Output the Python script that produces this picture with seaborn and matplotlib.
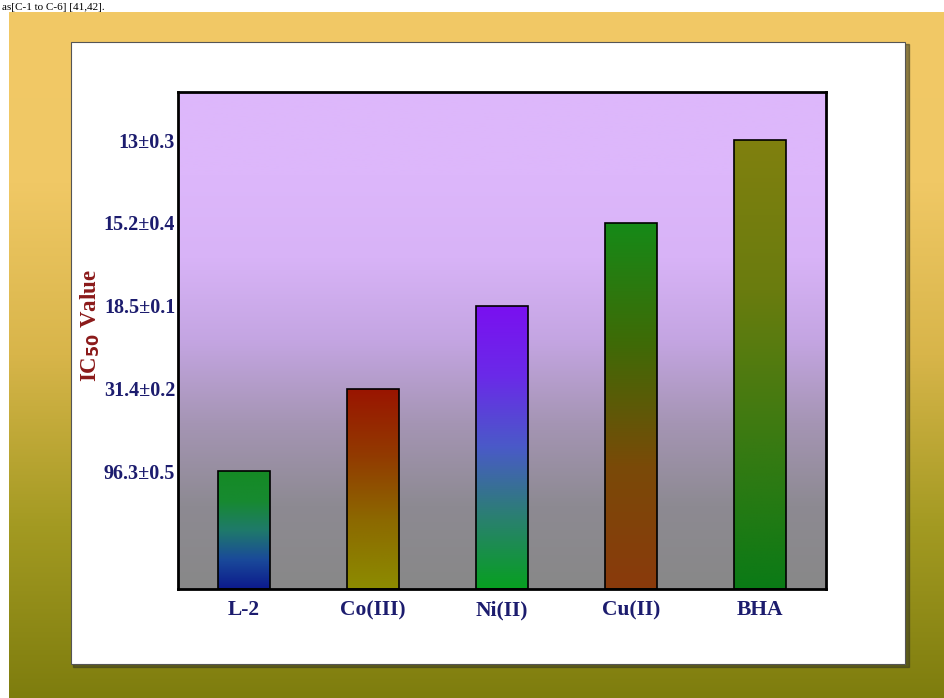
import numpy as np
import matplotlib
matplotlib.use("Agg")
import matplotlib.pyplot as plt
from matplotlib.colors import LinearSegmentedColormap
from matplotlib.patches import Rectangle
import seaborn as sns
import pandas as pd

# Data
categories = ["L-2", "Co(III)", "Ni(II)", "Cu(II)", "BHA"]
ic50_labels = ["96.3±0.5", "31.4±0.2", "18.5±0.1", "15.2±0.4", "13±0.3"]
activity_score = [1.42, 2.42, 3.42, 4.42, 5.42]

# Vertical colour ramps for each bar (bottom -> top)
bar_ramps = [
    ["#0c1a8c", "#1a4a9a", "#1f7a6a", "#178a30", "#158a25"],
    ["#8c8c00", "#8c6a00", "#923a00", "#9a1400"],
    ["#07a020", "#2a8070", "#4a5ac8", "#6a2ae8", "#7a10f0"],
    ["#8a3a0c", "#7a4a08", "#3f6a06", "#158a18"],
    ["#0a7a16", "#3a7a12", "#6a7c0e", "#80800f"],
]

W, H, DPI = 944, 698, 100
fig = plt.figure(figsize=(W / DPI, H / DPI), dpi=DPI)
fig.patch.set_facecolor("white")

def ramp(colors, n=256):
    cmap = LinearSegmentedColormap.from_list("r", colors)
    col = cmap(np.linspace(0, 1, n))[:, :3]
    return col.reshape(n, 1, 3)

# Gold outer frame
bg = fig.add_axes([9 / W, 0, 1 - 9 / W, (H - 12) / H])
bg.imshow(ramp(["#7e7d0e", "#a39a22", "#d8b54a", "#f0c865", "#f2c966"]),
          aspect="auto", origin="lower", extent=(0, 1, 0, 1))
bg.set_axis_off()

# White panel with a soft shadow
deco = fig.add_axes([0, 0, 1, 1], facecolor="none")
deco.set_xlim(0, W)
deco.set_ylim(H, 0)
deco.set_axis_off()
deco.add_patch(Rectangle((73, 44), 836, 623, color="#3a3a20", alpha=0.55, zorder=1))
deco.add_patch(Rectangle((71, 42), 834, 622, facecolor="white", edgecolor="#555555",
                         linewidth=0.8, zorder=2))
deco.text(2, 10, "as[C-1 to C-6] [41,42].", fontsize=8, family="Liberation Serif",
          color="black", va="baseline", ha="left", zorder=3)

# Main chart
ax = fig.add_axes([178 / W, (H - 589) / H, 648 / W, 497 / H])
df = pd.DataFrame({"compound": categories, "score": activity_score})
sns.barplot(data=df, x="compound", y="score", ax=ax, width=0.4,
            color="white", edgecolor="black", linewidth=1.2, zorder=2)

xlim = (-0.51, 4.51)
ylim = (0, 6)
ax.set_xlim(*xlim)
ax.set_ylim(*ylim)

# Plot area gradient: grey at the bottom to lavender at the top
ax.imshow(ramp(["#888888", "#8d8a92", "#a595b4", "#c4a5e2", "#d8b3f7", "#ddb7fb", "#ddb7fb"]),
          aspect="auto", origin="lower", extent=(*xlim, *ylim), zorder=0)

# Gradient fill inside each bar
for patch, colors in zip(ax.patches, bar_ramps):
    x0, y0 = patch.get_x(), patch.get_y()
    w, h = patch.get_width(), patch.get_height()
    im = ax.imshow(ramp(colors), aspect="auto", origin="lower",
                   extent=(x0, x0 + w, y0, y0 + h), zorder=2.5)
    im.set_clip_path(patch)
    patch.set_facecolor("none")
    patch.set_zorder(3)

ax.set_xlim(*xlim)
ax.set_ylim(*ylim)

ax.set_yticks(activity_score)
ax.set_yticklabels(ic50_labels)
ax.tick_params(axis="both", length=0)
ax.tick_params(axis="y", pad=2)
ax.tick_params(axis="x", pad=8)
for lab in ax.get_yticklabels():
    lab.set_fontfamily("Liberation Serif")
    lab.set_fontweight("bold")
    lab.set_color("#1c1c6e")
    lab.set_fontsize(14.5)
for lab in ax.get_xticklabels():
    lab.set_fontfamily("Liberation Serif")
    lab.set_fontweight("bold")
    lab.set_color("#1c1c6e")
    lab.set_fontsize(15.5)

ax.set_xlabel("")
ax.set_ylabel("IC$_{\\mathbf{50}}$ Value", fontsize=16.5, fontweight="bold",
              family="Liberation Serif", color="#8b1a1a")
ax.yaxis.set_label_coords(-0.118, 0.53)

for s in ax.spines.values():
    s.set_visible(True)
    s.set_color("black")
    s.set_linewidth(2)

fig.savefig("out.png", dpi=DPI)
